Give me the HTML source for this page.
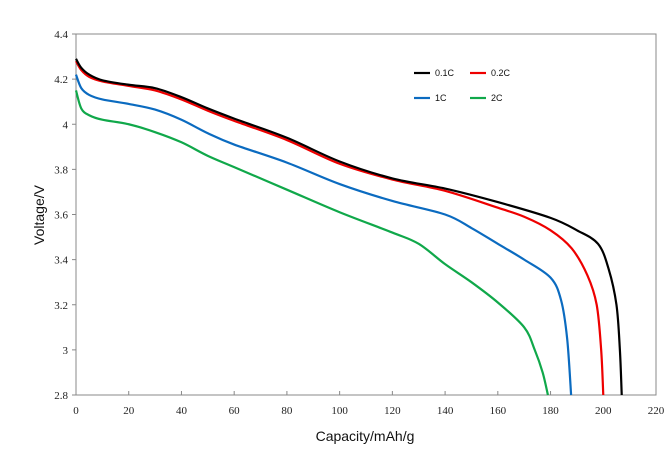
<!DOCTYPE html>
<html><head><style>
body{margin:0;background:#fff;}
svg{display:block;}
.t{font-family:"Liberation Serif",serif;font-size:11px;fill:#222;}
.a{font-family:"Liberation Sans",sans-serif;font-size:14px;fill:#111;}
.l{font-family:"Liberation Sans",sans-serif;font-size:9px;fill:#111;}
</style></head><body>
<svg id="s" width="667" height="460" xmlns="http://www.w3.org/2000/svg">
<rect x="76" y="34" width="580" height="361" fill="none" stroke="#888" stroke-width="1"/>
<g id="ticks"></g>
<g id="curves" fill="none" stroke-width="2.2" stroke-linejoin="round"></g>
<line x1="414" y1="73" x2="430" y2="73" stroke="#000" stroke-width="2.2"/>
<text class="l" x="435" y="76">0.1C</text>
<line x1="470" y1="73" x2="486" y2="73" stroke="#e00" stroke-width="2.2"/>
<text class="l" x="491" y="76">0.2C</text>
<line x1="414" y1="98" x2="430" y2="98" stroke="#0b6bc0" stroke-width="2.2"/>
<text class="l" x="435" y="101">1C</text>
<line x1="470" y1="98" x2="486" y2="98" stroke="#10a84a" stroke-width="2.2"/>
<text class="l" x="491" y="101">2C</text>
<text class="a" x="365" y="441" text-anchor="middle">Capacity/mAh/g</text>
<text class="a" transform="translate(44,215) rotate(-90)" text-anchor="middle">Voltage/V</text>
</svg>
<script>
var X=function(c){return 76+c*580/220;},Y=function(v){return 34+(4.4-v)*361/1.6;};
var tk=document.getElementById("ticks"),h="";
for(var c=0;c<=220;c+=20){h+='<line x1="'+X(c)+'" y1="395" x2="'+X(c)+'" y2="391" stroke="#888"/>';
h+='<text class="t" x="'+X(c)+'" y="414" text-anchor="middle">'+c+'</text>';}
var ys=["2.8","3","3.2","3.4","3.6","3.8","4","4.2","4.4"];
ys.forEach(function(s){var y=Y(parseFloat(s));h+='<line x1="72" y1="'+y+'" x2="76" y2="'+y+'" stroke="#888"/>';
h+='<text class="t" x="68" y="'+(y+4)+'" text-anchor="end">'+s+'</text>';});
tk.innerHTML=h;
var D={
"#000":[[0,4.29],[2,4.25],[5,4.22],[10,4.195],[20,4.175],[30,4.16],[40,4.12],[50,4.07],[60,4.025],[80,3.94],[100,3.835],[120,3.76],[140,3.715],[160,3.655],[180,3.585],[190,3.53],[198,3.47],[202,3.36],[205,3.2],[206.3,3.0],[207,2.8]],
"#e00":[[0,4.28],[2,4.24],[5,4.21],[10,4.19],[20,4.17],[30,4.15],[40,4.11],[50,4.06],[60,4.015],[80,3.93],[100,3.825],[120,3.755],[140,3.705],[160,3.63],[170,3.59],[180,3.53],[188,3.45],[194,3.33],[197.5,3.2],[199.2,3.0],[200,2.8]],
"#0b6bc0":[[0,4.22],[2,4.16],[5,4.13],[10,4.11],[20,4.09],[30,4.065],[40,4.02],[50,3.96],[60,3.91],[80,3.83],[100,3.735],[120,3.66],[140,3.6],[150,3.54],[160,3.47],[170,3.40],[180,3.32],[184,3.22],[186.3,3.05],[187.8,2.8]],
"#10a84a":[[0,4.15],[2,4.07],[5,4.04],[10,4.02],[20,4.0],[30,3.965],[40,3.92],[50,3.86],[60,3.81],[80,3.71],[100,3.61],[120,3.52],[130,3.47],[140,3.38],[150,3.3],[160,3.21],[170,3.1],[174,3.0],[177,2.9],[179,2.8]]};
var cg=document.getElementById("curves"),o="";
["#10a84a","#0b6bc0","#e00","#000"].forEach(function(k){var p=D[k].map(function(a){return [X(a[0]),Y(a[1])];});
var d="M"+p[0][0]+","+p[0][1];
for(var i=0;i<p.length-1;i++){var p0=p[i>0?i-1:0],p1=p[i],p2=p[i+1],p3=p[i+2<p.length?i+2:i+1];
d+=" C"+(p1[0]+(p2[0]-p0[0])/6)+","+(p1[1]+(p2[1]-p0[1])/6)+" "+(p2[0]-(p3[0]-p1[0])/6)+","+(p2[1]-(p3[1]-p1[1])/6)+" "+p2[0]+","+p2[1];}
o+='<path d="'+d+'" stroke="'+k+'"/>';});
cg.innerHTML=o;
</script>
</body></html>
